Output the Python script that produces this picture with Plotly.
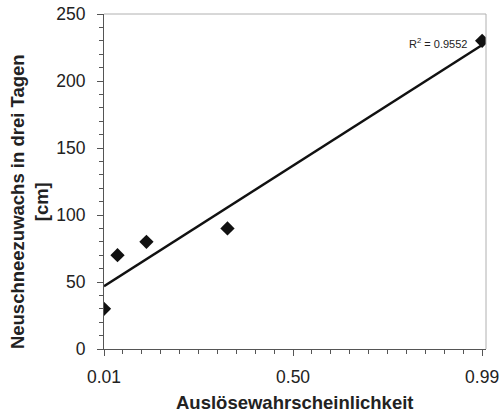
import numpy as np
import plotly.graph_objects as go

# Data
prob = [0.01, 0.045, 0.12, 0.33, 0.99]
snow = [30, 70, 80, 90, 230]
x_ticks = [0.01, 0.50, 0.99]
r2_text = "R<sup>2</sup> = 0.9552"

slope, intercept = np.polyfit(prob, snow, 1)
fit_x = [min(prob), max(prob)]
fit_y = [slope * v + intercept for v in fit_x]

fig = go.Figure()
fig.add_trace(go.Scatter(x=fit_x, y=fit_y, mode="lines",
                         line=dict(color="#111111", width=2.5), showlegend=False))
fig.add_trace(go.Scatter(x=prob, y=snow, mode="markers",
                         marker=dict(symbol="diamond", size=11, color="#111111"),
                         showlegend=False))

font = "Liberation Sans, Arial, sans-serif"
fig.update_layout(
    width=502, height=414,
    margin=dict(l=104, r=16, t=14, b=65),
    paper_bgcolor="white", plot_bgcolor="white",
    font=dict(family=font, size=17.5, color="#222222"),
    xaxis=dict(range=[0.01, 1.0], tickmode="array", tickvals=x_ticks,
               ticktext=[f"{v:.2f}" for v in x_ticks],
               showgrid=False, zeroline=False, showline=True,
               linecolor="#555555", linewidth=1, automargin=False,
               ticks="outside", ticklen=6, tickcolor="#555555",
               ticklabelstandoff=6, ticklabeloverflow="allow",
               minor=dict(dtick=0.049, tick0=0.01, ticks="outside", ticklen=4,
                          tickcolor="#555555", showgrid=False)),
    yaxis=dict(range=[0, 250], dtick=50, showgrid=False, zeroline=False,
               showline=True, linecolor="#555555", linewidth=1, automargin=False,
               ticks="outside", ticklen=6, tickcolor="#555555",
               ticklabelstandoff=8, ticklabeloverflow="allow",
               minor=dict(dtick=10, ticks="outside", ticklen=4,
                          tickcolor="#555555", showgrid=False)),
    shapes=[
        dict(type="line", xref="paper", yref="paper", x0=0, x1=1, y0=1, y1=1,
             line=dict(color="#b0b0b0", width=1)),
        dict(type="line", xref="paper", yref="paper", x0=1, x1=1, y0=0, y1=1,
             line=dict(color="#b0b0b0", width=1)),
    ],
    annotations=[
        dict(text="<b>Neuschneezuwachs in drei Tagen<br>[cm]</b>",
             textangle=-90, xref="paper", yref="paper",
             x=-0.195, y=0.44, xanchor="center", yanchor="middle",
             showarrow=False, font=dict(size=18.5, color="#222222")),
        dict(text="<b>Auslösewahrscheinlichkeit</b>",
             xref="paper", yref="paper", x=0.5, y=-0.161,
             xanchor="center", yanchor="middle",
             showarrow=False, font=dict(size=18.5, color="#222222")),
        dict(text=r2_text, xref="x", yref="y", x=0.955, y=228,
             xanchor="right", yanchor="middle", showarrow=False,
             font=dict(size=11, color="#222222")),
    ],
)

fig.write_html(
    "out.html",
    config={"displayModeBar": False},
    post_script="document.body.style.margin='0';document.body.style.overflow='hidden';",
)
